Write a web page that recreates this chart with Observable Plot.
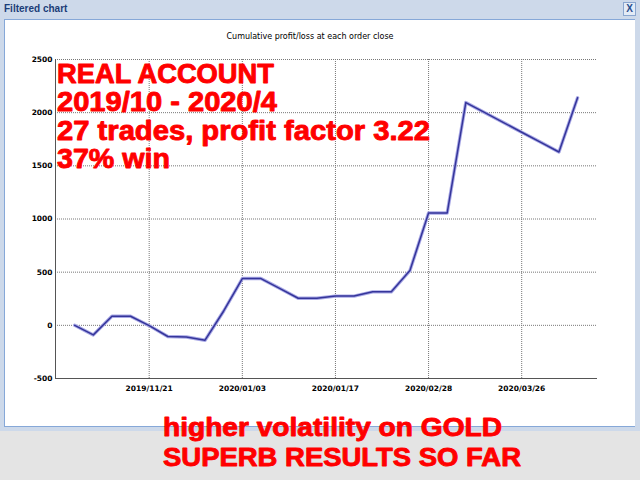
<!DOCTYPE html>
<html>
<head>
<meta charset="utf-8">
<script src="https://cdn.jsdelivr.net/npm/d3@7"></script>
<script src="https://cdn.jsdelivr.net/npm/@observablehq/plot@0.6"></script>
<style>
  body { margin: 0; }
  #page { position: relative; width: 640px; height: 480px; background: #e4e4e4; overflow: hidden; }
  #frame { position: absolute; left: 0; top: 0; width: 640px; height: 431px; background: #cdd9ea; }
  #wintitle { position: absolute; left: 4px; top: 3px; font: bold 10px "Liberation Sans", Arial, sans-serif; color: #1b3d78; }
  #close { position: absolute; left: 623px; top: 2px; width: 11px; height: 12px; border: 1px solid #8aa6cf; background: #e3ebf6; color: #2a4f8e; font: bold 10px "Liberation Sans", Arial, sans-serif; text-align: center; line-height: 12px; }
  #panel { position: absolute; left: 4px; top: 19px; width: 629px; height: 406px; border: 1px solid #86a8d8; background: #fff; }
  #chart { position: absolute; left: 5px; top: 20px; }
  #subtitle { position: absolute; left: 0; top: 32px; width: 620px; text-align: center; font: 8px "DejaVu Sans", sans-serif; color: #000; }
  #overlay { position: absolute; left: 0; top: 0; pointer-events: none; }
</style>
</head>
<body>
<div id="page">
  <div id="frame"></div>
  <div id="wintitle">Filtered chart</div>
  <div id="close">X</div>
  <div id="panel"></div>
  <div id="chart"></div>
  <div id="subtitle">Cumulative profit/loss at each order close</div>
</div>
<script>
// ---- data ----
const tradeIndex = [0, 1, 2, 3, 4, 5, 6, 7, 8, 9, 10, 11, 12, 13, 14, 15, 16, 17, 18, 19, 20, 21, 22, 23, 24, 25, 26, 27];
const cumulativeProfit = [0, -90, 85, 85, -3, -105, -110, -140, 135, 440, 440, 348, 255, 255, 275, 275, 315, 315, 515, 1057, 1057, 2095, 2002, 1909, 1816, 1723, 1630, 2140];
const xTickIndex = [4, 9, 14, 19, 24];
const xTickLabels = ["2019/11/21", "2020/01/03", "2020/01/17", "2020/02/28", "2020/03/26"];
const yTicks = [-500, 0, 500, 1000, 1500, 2000, 2500];
const headlineLines = ["REAL ACCOUNT", "2019/10 - 2020/4", "27 trades, profit factor 3.22", "37% win"];
const footerLines = ["higher volatility on GOLD", "SUPERB RESULTS SO FAR"];

const rows = tradeIndex.map((i, k) => ({i, v: cumulativeProfit[k]}));
const xDomain = [-1.03, 28.07];
const fmtX = d => xTickLabels[xTickIndex.indexOf(d)];
const fmtY = d => String(d);

const chart = Plot.plot({
  width: 630,
  height: 406,
  marginLeft: 50,
  marginRight: 38,
  marginTop: 39,
  marginBottom: 48,
  style: {background: "white", fontFamily: "DejaVu Sans, sans-serif", fontSize: "7.5px", fontWeight: "bold", color: "#000", overflow: "visible"},
  x: {domain: xDomain, ticks: xTickIndex, tickFormat: fmtX, label: null},
  y: {domain: [-500, 2500], ticks: yTicks, tickFormat: fmtY, label: null},
  marks: [
    Plot.gridX(xTickIndex, {stroke: "#777", strokeOpacity: 1, strokeDasharray: "1,1"}),
    Plot.gridY(yTicks.slice(1), {stroke: "#777", strokeOpacity: 1, strokeDasharray: "1,1"}),
    Plot.axisX(xTickIndex, {tickSize: 0, tickPadding: 7, tickFormat: fmtX, label: null}),
    Plot.axisY(yTicks, {tickSize: 0, tickPadding: 3, tickFormat: fmtY, label: null}),
    Plot.ruleX([xDomain[0]], {stroke: "#555", strokeWidth: 1}),
    Plot.ruleY([-500], {stroke: "#555", strokeWidth: 1}),
    Plot.line(rows, {x: "i", y: "v", stroke: "#a9a9e6", strokeWidth: 3.4}),
    Plot.line(rows, {x: "i", y: "v", stroke: "#35359a", strokeWidth: 1.5})
  ]
});
document.getElementById("chart").appendChild(chart);

// ---- red annotation overlay ----
const headLayout = {x: 57, y0: 83, step: 28.4, size: 27, lengths: [217, 220, 373, 113]};
const footLayout = {x: 163, y0: 435.5, step: 30.5, size: 26, lengths: [339, 358]};
const svg = d3.select("#page").append("svg")
  .attr("id", "overlay").attr("width", 640).attr("height", 480);
function block(lines, L) {
  svg.selectAll(null).data(lines).join("text")
    .attr("x", L.x)
    .attr("y", (d, k) => L.y0 + k * L.step)
    .attr("textLength", (d, k) => L.lengths[k])
    .attr("lengthAdjust", "spacingAndGlyphs")
    .attr("fill", "#ff0000")
    .attr("stroke", "#ff0000")
    .attr("stroke-width", 0.9)
    .attr("stroke-linejoin", "round")
    .style("font", `bold ${L.size}px "Liberation Sans", Arial, sans-serif`)
    .text(d => d);
}
block(headlineLines, headLayout);
block(footerLines, footLayout);
</script>
</body>
</html>
